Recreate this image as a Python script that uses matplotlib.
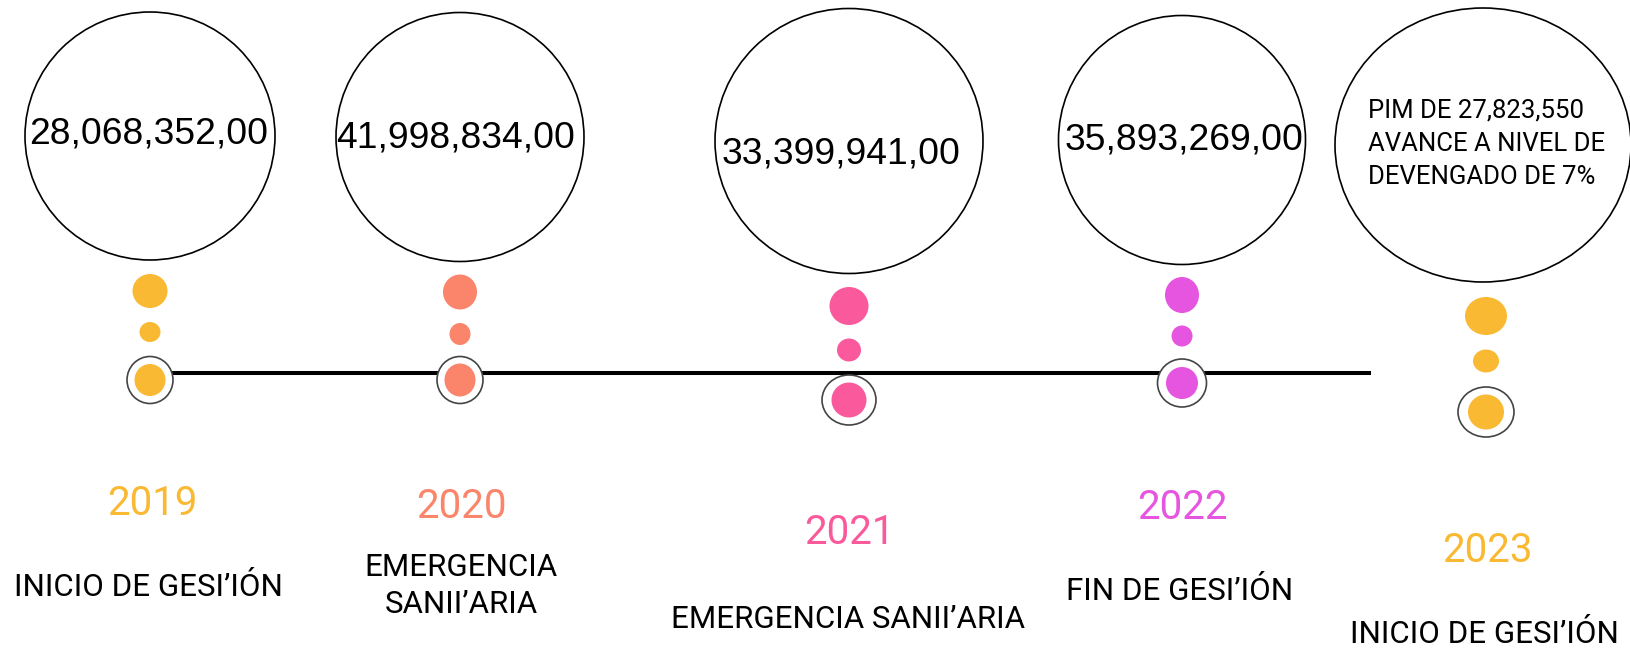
import matplotlib
matplotlib.use("Agg")
import matplotlib.pyplot as plt
from matplotlib.patches import Ellipse

# ---- data ----
years = ["2019", "2020", "2021", "2022", "2023"]
amounts = ["28,068,352,00", "41,998,834,00", "33,399,941,00", "35,893,269,00",
           "PIM DE 27,823,550\nAVANCE A NIVEL DE\nDEVENGADO DE 7%"]
descriptions = ["INICIO DE GESI\u2019I\u00d3N", "EMERGENCIA\nSANII\u2019ARIA",
                "EMERGENCIA SANII\u2019ARIA", "FIN DE GESI\u2019I\u00d3N",
                "INICIO DE GESI\u2019I\u00d3N"]

# ---- style / layout ----
colors = ["#F9B933", "#FA856B", "#FA5A9C", "#E655E0", "#F9B933"]
x_pos = [150, 460, 849, 1182, 1486]
bubble_x = [150, 460, 849, 1182, 1483]
bubble_y = [136, 137, 141, 140, 145]
bubble_w = [250, 248, 268, 247, 296]
bubble_h = [248, 249, 265, 249, 274]
big_y = [291, 292, 306, 295, 316]
big_wh = [(35, 34), (34, 35), (39, 38), (34, 36), (42, 38)]
small_y = [332, 334, 350, 336, 361]
small_wh = [(21, 20), (21, 22), (24, 23), (21, 21), (26, 23)]
ring_y = [380, 380, 400, 383, 412]
ring_wh = [(46, 47), (46, 47), (54, 50), (49, 48), (56, 50)]
inner_wh = [(31, 32), (31, 33), (35, 35), (32, 32), (36, 35)]
amount_x = [149, 456, 841, 1184, 1368]
amount_base = [144, 148, 164, 150, 184]   # baseline of last line
year_x = [152, 461, 849, 1182, 1487]
year_base = [515, 518, 544, 519, 562]
desc_x = [148, 461, 848, 1180, 1484]
desc_base = [596, 613, 628, 600, 643]     # baseline of last line
line_y = 373
line_x = (150, 1371)

W, H = 1631, 650
fig = plt.figure(figsize=(W / 100, H / 100), dpi=100)
ax = fig.add_axes([0, 0, 1, 1])
ax.set_xlim(0, W)
ax.set_ylim(H, 0)
ax.axis("off")

ax.plot(line_x, [line_y, line_y], color="black", lw=2.9, zorder=1,
        solid_capstyle="butt")

for i in range(len(years)):
    c = colors[i]
    ax.add_patch(Ellipse((bubble_x[i], bubble_y[i]), bubble_w[i], bubble_h[i],
                         facecolor="white", edgecolor="black", lw=1.2, zorder=2))
    ax.add_patch(Ellipse((x_pos[i], big_y[i]), *big_wh[i], facecolor=c,
                         edgecolor="none", zorder=3))
    ax.add_patch(Ellipse((x_pos[i], small_y[i]), *small_wh[i], facecolor=c,
                         edgecolor="none", zorder=3))
    ax.add_patch(Ellipse((x_pos[i], ring_y[i]), *ring_wh[i], facecolor="white",
                         edgecolor="#444444", lw=1.2, zorder=3))
    ax.add_patch(Ellipse((x_pos[i], ring_y[i]), *inner_wh[i], facecolor=c,
                         edgecolor="none", zorder=4))

    if i < 4:
        ax.text(amount_x[i], amount_base[i], amounts[i], ha="center", va="baseline",
                fontsize=26.8, family="Liberation Sans", color="black", zorder=5)
    else:
        ax.text(amount_x[i], amount_base[i], amounts[i], ha="left", va="baseline",
                fontsize=18.5, family="Roboto", color="black", linespacing=1.48,
                zorder=5)

    ax.text(year_x[i], year_base[i], years[i], ha="center", va="baseline",
            fontsize=29, family="Roboto", color=c, zorder=5)
    ax.text(desc_x[i], desc_base[i], descriptions[i], ha="center", va="baseline",
            fontsize=22.5, family="Roboto", color="black", linespacing=1.33,
            multialignment="center", zorder=5)

fig.savefig("out.png", dpi=100, facecolor="white")
